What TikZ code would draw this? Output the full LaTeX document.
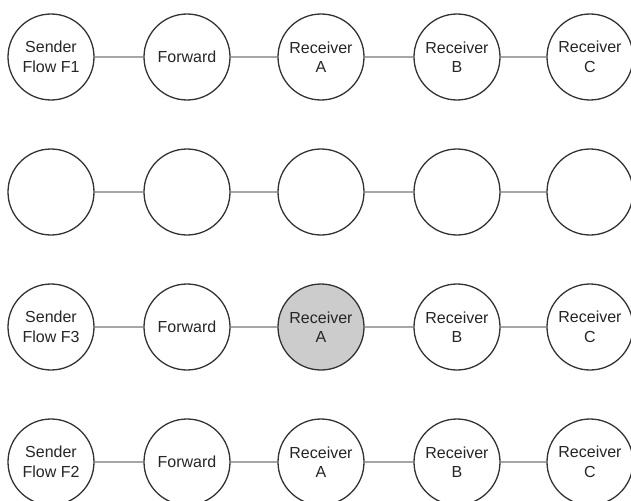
\documentclass[tikz,border=0pt]{standalone}
\usepackage{fontspec}
\setmainfont{Liberation Sans}
\begin{document}
\begin{tikzpicture}[x=1pt,y=-1pt,
  nd/.style={circle,draw=black!80,line width=1.3pt,minimum size=86pt,inner sep=0pt,fill=white,
    font=\fontsize{16}{19.5}\selectfont,align=center,text=black!85},
  hl/.style={fill=black!20},
  ln/.style={draw=black!35,line width=1.3pt}]
\clip (0,0) rectangle (631,500);
\useasboundingbox (0,0) rectangle (631,500);
\foreach \r/\yy in {1/57,2/192,3/327,4/462}{
  \foreach \c/\xx in {1/51,2/187,3/321,4/457,5/590}{
    \coordinate (p\r\c) at (\xx,\yy);
  }
}
% row 1
\node[nd] (a1) at (p11) {Sender\\Flow F1};
\node[nd] (a2) at (p12) {Forward};
\node[nd] (a3) at (p13) {Receiver\\A};
\node[nd] (a4) at (p14) {Receiver\\B};
\node[nd] (a5) at (p15) {Receiver\\C};
% row 2
\node[nd] (b1) at (p21) {};
\node[nd] (b2) at (p22) {};
\node[nd] (b3) at (p23) {};
\node[nd] (b4) at (p24) {};
\node[nd] (b5) at (p25) {};
% row 3
\node[nd] (c1) at (p31) {Sender\\Flow F3};
\node[nd] (c2) at (p32) {Forward};
\node[nd,hl] (c3) at (p33) {Receiver\\A};
\node[nd] (c4) at (p34) {Receiver\\B};
\node[nd] (c5) at (p35) {Receiver\\C};
% row 4
\node[nd] (d1) at (p41) {Sender\\Flow F2};
\node[nd] (d2) at (p42) {Forward};
\node[nd] (d3) at (p43) {Receiver\\A};
\node[nd] (d4) at (p44) {Receiver\\B};
\node[nd] (d5) at (p45) {Receiver\\C};
\foreach \r in {a,b,c,d}{
  \draw[ln] (\r1) -- (\r2);
  \draw[ln] (\r2) -- (\r3);
  \draw[ln] (\r3) -- (\r4);
  \draw[ln] (\r4) -- (\r5);
}
\end{tikzpicture}
\end{document}
